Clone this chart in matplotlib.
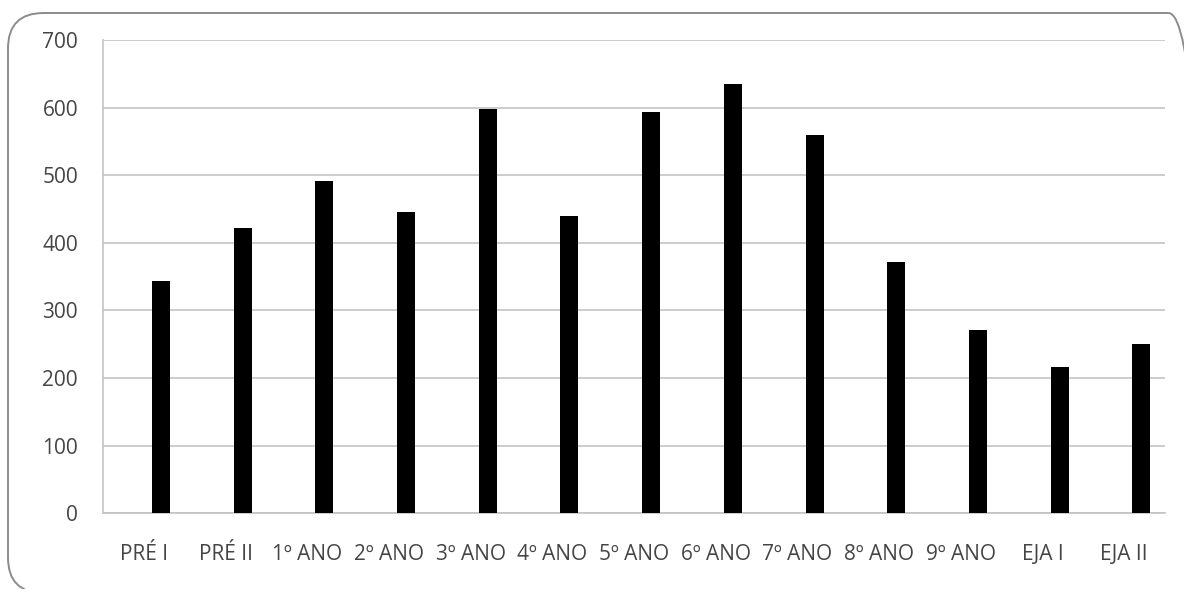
import matplotlib
matplotlib.use("Agg")
import matplotlib.pyplot as plt
from matplotlib.patches import FancyBboxPatch

categories = ["PRÉ I", "PRÉ II", "1º ANO", "2º ANO", "3º ANO", "4º ANO", "5º ANO",
              "6º ANO", "7º ANO", "8º ANO", "9º ANO", "EJA I", "EJA II"]
values = [344, 422, 492, 445, 598, 440, 594, 635, 559, 371, 271, 216, 251]
y_ticks = [0, 100, 200, 300, 400, 500, 600, 700]

W, H = 1184, 589
fig = plt.figure(figsize=(W / 100, H / 100), dpi=100)
fig.patch.set_facecolor("white")

# rounded chart frame, running off the right and bottom edges
frame = FancyBboxPatch((8 / W, -4 / H), (1204 - 8) / W, (576 + 4) / H,
                       boxstyle="round,pad=0,rounding_size=0.03",
                       transform=fig.transFigure, facecolor="none",
                       edgecolor="#8c8c8c", linewidth=1.4, mutation_aspect=W / H)
fig.patches.append(frame)

ax = fig.add_axes([103 / W, 1 - 513.3 / H, (1165 - 103) / W, (513.3 - 40) / H])
x = list(range(len(categories)))
# bars sit a little right of each category centre
ax.bar([i + 0.21 for i in x], values, width=0.22, color="black", zorder=3)

ax.set_xlim(-0.5, len(categories) - 0.5)
ax.set_ylim(0, 700)
ax.set_yticks(y_ticks)
ax.set_xticks(x)
ax.set_xticklabels(categories)
ax.yaxis.grid(True, color="#c4c4c4", linewidth=1.2, zorder=0)
ax.set_axisbelow(True)

for side in ["top", "right"]:
    ax.spines[side].set_visible(False)
for side in ["left", "bottom"]:
    ax.spines[side].set_color("#c4c4c4")
    ax.spines[side].set_linewidth(1.2)

ax.tick_params(axis="both", length=0, colors="#454545", labelsize=15)
ax.tick_params(axis="y", pad=18)
ax.tick_params(axis="x", pad=22)
for lbl in ax.get_xticklabels() + ax.get_yticklabels():
    lbl.set_fontfamily("Open Sans")

fig.savefig("out.png", dpi=100, facecolor="white")
